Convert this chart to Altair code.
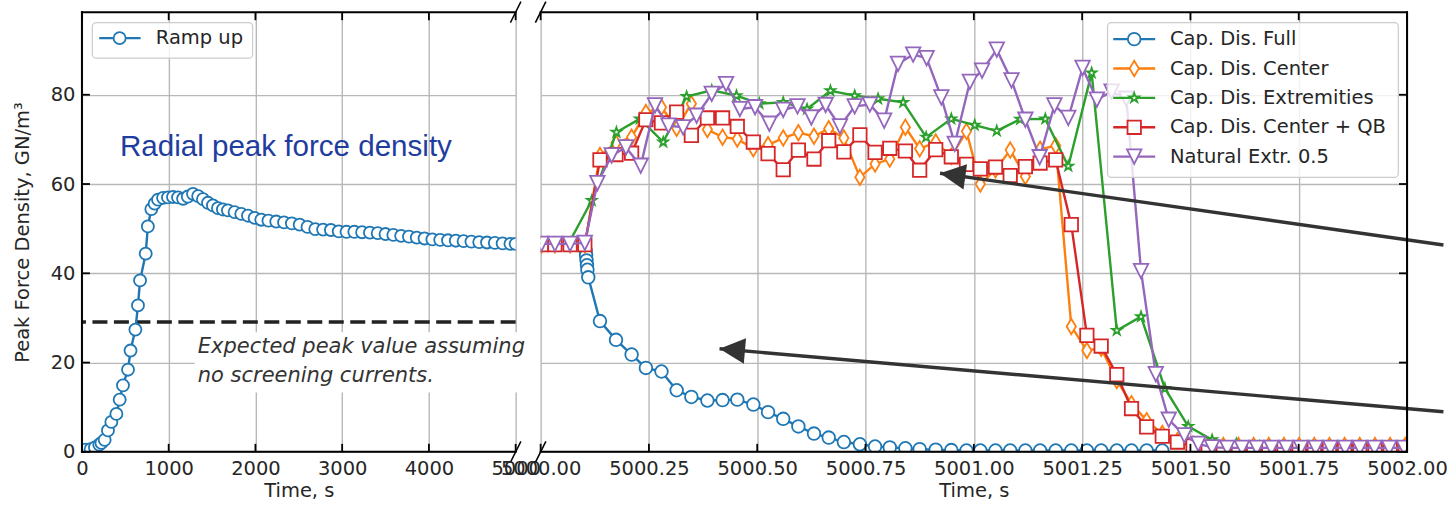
import math
import altair as alt
import pandas as pd

# ---------------- data ----------------
ramp_t = [0, 45, 100, 150, 200, 225, 262, 300, 339, 397, 435, 473, 531, 560, 616, 646, 670, 735, 760, 800,
          838, 877, 935, 992, 1050, 1108, 1166, 1220, 1280, 1340, 1395, 1453, 1510, 1568, 1625, 1683, 1760, 1837,
          1914, 1991, 2068, 2150, 2240, 2330, 2420, 2510, 2600, 2690, 2780, 2870, 2960, 3050, 3140, 3230, 3320,
          3410, 3500, 3590, 3680, 3770, 3860, 3950, 4040, 4130, 4220, 4310, 4400, 4490, 4580, 4670, 4760, 4850,
          4940, 5000]
ramp_v = [0.3, 0.5, 0.6, 1.0, 1.6, 2.0, 2.7, 4.8, 6.7, 8.5, 11.7, 14.9, 18.4, 22.7, 27.4, 32.8, 38.4, 44.4, 50.5, 54.4,
          55.6, 56.5, 56.9, 57.0, 57.1, 57.0, 56.7, 57.2, 57.8, 57.3, 56.6, 55.8, 55.2, 54.6, 54.3, 54.1, 53.7, 53.3,
          52.9, 52.4, 52.0, 51.8, 51.6, 51.4, 51.2, 50.9, 50.4, 49.9, 49.8, 49.7, 49.4, 49.3, 49.3, 49.2, 49.1,
          49.0, 48.8, 48.6, 48.4, 48.2, 48.0, 47.8, 47.6, 47.5, 47.4, 47.3, 47.2, 47.1, 47.0, 46.9, 46.8, 46.7,
          46.6, 46.6]

full_t = [5000.002, 5000.033, 5000.068, 5000.102, 5000.104, 5000.105, 5000.106, 5000.107, 5000.108, 5000.110,
          5000.137, 5000.174, 5000.210, 5000.243, 5000.279, 5000.314, 5000.348, 5000.385, 5000.420, 5000.454,
          5000.491, 5000.525, 5000.560, 5000.595, 5000.631, 5000.665, 5000.700, 5000.737, 5000.772, 5000.806,
          5000.842, 5000.875, 5000.912, 5000.948, 5000.983, 5001.015, 5001.050, 5001.084, 5001.119, 5001.153,
          5001.189, 5001.225, 5001.261, 5001.294, 5001.330, 5001.364, 5001.399, 5001.435]
full_v = [46.5, 46.5, 46.5, 46.4, 45.1, 44.0, 42.9, 41.8, 40.8, 39.1,
          29.3, 25.1, 21.8, 18.8, 18.0, 13.8, 12.3, 11.5, 11.6, 11.7,
          10.6, 8.9, 7.4, 5.7, 4.1, 3.2, 2.2, 1.7, 1.2, 1.0,
          0.8, 0.6, 0.5, 0.4, 0.3, 0.3, 0.3, 0.3, 0.3, 0.3,
          0.3, 0.3, 0.3, 0.3, 0.3, 0.3, 0.3, 0.3]

center_t = [5000.002, 5000.033, 5000.068, 5000.102, 5000.137, 5000.174, 5000.210, 5000.243, 5000.279, 5000.314,
            5000.348, 5000.385, 5000.420, 5000.454, 5000.491, 5000.525, 5000.560, 5000.595, 5000.631, 5000.665,
            5000.700, 5000.737, 5000.772, 5000.806, 5000.842, 5000.875, 5000.912, 5000.948, 5000.983, 5001.015,
            5001.050, 5001.084, 5001.119, 5001.153, 5001.189, 5001.225, 5001.261, 5001.294, 5001.330, 5001.364,
            5001.399, 5001.435, 5001.470, 5001.506, 5001.541, 5001.576, 5001.611, 5001.646, 5001.681, 5001.716,
            5001.751, 5001.786, 5001.821, 5001.856, 5001.891, 5001.926, 5001.961, 5001.996]
center_v = [46.4, 46.4, 46.4, 46.4, 66.4, 69.2, 70.5, 76.0, 77.2, 72.5,
            78.0, 72.2, 70.5, 70.1, 67.9, 68.8, 70.3, 71.5, 70.7, 72.4,
            70.3, 61.5, 64.5, 65.6, 72.7, 67.9, 69.4, 66.2, 71.8, 60.0,
            63.2, 67.6, 61.7, 67.8, 68.6, 28.1, 22.7, 23.2, 16.0, 10.8,
            7.0, 4.1, 2.5, 1.7, 1.4, 1.4, 1.4, 1.4, 1.4, 1.4,
            1.4, 1.4, 1.4, 1.4, 1.4, 1.4, 1.4, 1.4]

extr_t = [5000.008, 5000.063, 5000.118, 5000.175, 5000.229, 5000.283, 5000.337, 5000.395, 5000.452, 5000.505,
          5000.560, 5000.615, 5000.669, 5000.725, 5000.779, 5000.837, 5000.890, 5000.948, 5001.002, 5001.053,
          5001.107, 5001.165, 5001.218, 5001.272, 5001.330, 5001.386, 5001.441, 5001.495, 5001.550, 5001.606,
          5001.660, 5001.715, 5001.770, 5001.825, 5001.880, 5001.935, 5001.990]
extr_v = [46.4, 46.4, 56.3, 71.6, 74.6, 69.4, 79.6, 81.0, 79.8, 78.0,
          78.3, 76.8, 80.9, 79.8, 79.1, 78.3, 70.5, 74.6, 73.2, 71.9,
          74.5, 74.6, 64.0, 84.9, 27.2, 30.3, 14.2, 5.7, 2.7, 1.8,
          1.2, 1.0, 1.0, 1.0, 1.0, 1.0, 1.0]

cqb_t = [5000.002, 5000.033, 5000.068, 5000.102, 5000.137, 5000.174, 5000.210, 5000.243, 5000.279, 5000.314,
         5000.348, 5000.385, 5000.420, 5000.454, 5000.491, 5000.525, 5000.560, 5000.595, 5000.631, 5000.665,
         5000.700, 5000.737, 5000.772, 5000.806, 5000.842, 5000.875, 5000.912, 5000.948, 5000.983, 5001.015,
         5001.050, 5001.084, 5001.119, 5001.153, 5001.189, 5001.225, 5001.261, 5001.294, 5001.330, 5001.364,
         5001.399, 5001.435, 5001.470, 5001.506, 5001.541, 5001.576, 5001.611, 5001.646, 5001.681, 5001.716,
         5001.751, 5001.786, 5001.821, 5001.856, 5001.891, 5001.926, 5001.961, 5001.996]
cqb_v = [46.4, 46.4, 46.4, 46.4, 65.4, 66.6, 66.9, 74.4, 73.7, 76.1,
         70.9, 74.8, 74.8, 72.9, 69.4, 66.8, 63.2, 67.6, 65.6, 69.7,
         67.2, 71.0, 67.1, 68.0, 67.4, 63.1, 67.7, 66.1, 64.4, 63.4,
         63.8, 61.9, 63.9, 64.7, 65.4, 50.9, 26.1, 23.7, 17.3, 9.7,
         5.6, 3.5, 2.2, 1.3, 1.0, 0.9, 0.9, 0.9, 0.9, 0.9,
         0.9, 0.9, 0.9, 0.9, 0.9, 0.9, 0.9, 0.9]

nat_t = [5000.002, 5000.033, 5000.068, 5000.102, 5000.131, 5000.164, 5000.197, 5000.231, 5000.264, 5000.295,
         5000.329, 5000.360, 5000.395, 5000.428, 5000.460, 5000.495, 5000.528, 5000.560, 5000.593, 5000.625,
         5000.658, 5000.691, 5000.725, 5000.760, 5000.793, 5000.825, 5000.860, 5000.891, 5000.925, 5000.956,
         5000.991, 5001.019, 5001.053, 5001.087, 5001.119, 5001.152, 5001.186, 5001.218, 5001.251, 5001.284,
         5001.318, 5001.352, 5001.386, 5001.420, 5001.450, 5001.486, 5001.518, 5001.550, 5001.585, 5001.619,
         5001.653, 5001.687, 5001.721, 5001.755, 5001.789, 5001.823, 5001.857, 5001.891, 5001.925, 5001.959,
         5001.993]
nat_v = [46.6, 46.6, 46.6, 46.8, 60.2, 66.4, 68.2, 64.1, 77.6, 73.1,
         72.7, 75.3, 80.2, 82.4, 76.8, 77.2, 73.5, 76.6, 77.4, 74.9,
         77.7, 72.9, 77.4, 77.8, 74.2, 86.9, 89.0, 88.2, 79.4, 69.0,
         82.9, 85.4, 90.1, 83.2, 74.4, 66.0, 77.6, 74.8, 86.0, 78.9,
         80.7, 79.1, 40.5, 17.4, 7.2, 3.7, 1.8, 1.0, 0.9, 0.9,
         0.9, 0.9, 0.9, 0.9, 0.9, 0.9, 0.9, 0.9, 0.9, 0.9,
         0.9]

series_names = ["Cap. Dis. Full", "Cap. Dis. Center", "Cap. Dis. Extremities",
                "Cap. Dis. Center + QB", "Natural Extr. 0.5"]
series_colors = ["#1f77b4", "#ff7f0e", "#2ca02c", "#d62728", "#9467bd"]

left_xticks = [0, 1000, 2000, 3000, 4000, 5000]
right_xticks = [5000.0, 5000.25, 5000.5, 5000.75, 5001.0, 5001.25, 5001.5, 5001.75, 5002.0]
yticks = [0, 20, 40, 60, 80]

expected_peak = [29.1]
title_text = ["Radial peak force density"]
title_pos_t, title_pos_v = [438], [68.2]
note_lines = ["Expected peak value assuming", "no screening currents."]
note_t = [1336, 1336]
note_v = [23.4, 17.0]
note_box_t, note_box_t2, note_box_v, note_box_v2 = [1300], [5170], [13.3], [26.8]

arrow_tip_t = [5000.922, 5000.413]
arrow_tip_v = [62.41, 23.1]
arrow_tail_t = [5002.084, 5002.084]
arrow_tail_v = [46.34, 8.98]

# ---------------- styling ----------------
W_L, W_R, H = 434, 867, 440
Y_MAX = 98.5
FONT = "DejaVu Sans"
FS = 19.5
TXT = "#262626"
GRID = "#b8b8b8"
LW = 2.4
MW = 1.8

STAR = ("M0,-1L0.225,-0.309L0.951,-0.309L0.363,0.118L0.588,0.809L0,0.382"
        "L-0.588,0.809L-0.363,0.118L-0.951,-0.309L-0.225,-0.309Z")
THIN_DIAMOND = "M0,-1L0.6,0L0,1L-0.6,0Z"
TRI_DOWN = "M0,1L-1,-1L1,-1Z"
series_shapes = ["circle", THIN_DIAMOND, STAR, "square", TRI_DOWN]
series_sizes = [160, 240, 100, 180, 210]
RAMP_SIZE = 145

one = pd.DataFrame({"k": [0]})

yscale = alt.Scale(domain=[0, Y_MAX], nice=False, zero=False)
lscale = alt.Scale(domain=[0, 5000], nice=False, zero=False)
rscale = alt.Scale(domain=[5000, 5002], nice=False, zero=False)

ax_common = dict(grid=True, gridColor=GRID, gridWidth=1.4, ticks=False, tickSize=0, domain=False,
                 labelFont=FONT, labelFontSize=FS, labelColor=TXT, titleFont=FONT, titleFontSize=FS,
                 titleColor=TXT, titleFontWeight="normal", labelOverlap=False, labelFlush=False)

LX = alt.X("t:Q", scale=lscale, axis=alt.Axis(values=left_xticks, format="d", title="Time, s",
                                               labelPadding=8, titlePadding=3.5, **ax_common))
LY = alt.Y("v:Q", scale=yscale, axis=alt.Axis(values=yticks, format="d",
                                               title="Peak Force Density, GN/m³",
                                               labelPadding=7, titlePadding=18, **ax_common))
RX = alt.X("t:Q", scale=rscale, axis=alt.Axis(values=right_xticks, format=".2f", title="Time, s",
                                               labelPadding=8, titlePadding=3.5, **ax_common))
RY = alt.Y("v:Q", scale=yscale, axis=alt.Axis(values=yticks, labels=False, title="", orient="right",
                                               **ax_common))


def series_layers(t, v, color, shape, size, X, Y):
    df = pd.DataFrame({"t": t, "v": v})
    base = alt.Chart(df)
    line = base.mark_line(color=color, strokeWidth=LW, clip=True).encode(x=X, y=Y)
    pts = base.mark_point(shape=shape, size=size, filled=True, fill="white", stroke=color,
                          strokeWidth=MW, opacity=1, clip=True).encode(x=X, y=Y)
    return [line, pts]


def legend_layers(box, line_x, mark_x, text_x, row0, dy, items):
    x0, x1, y0, y1 = box
    layers = [alt.Chart(one).mark_rect(fill="white", fillOpacity=0.8, stroke="#cccccc", strokeWidth=1.2,
                                       cornerRadius=4)
              .encode(x=alt.value(x0), x2=alt.value(x1), y=alt.value(y0), y2=alt.value(y1))]
    for i, (label, color, shape, size) in enumerate(items):
        y = row0 + i * dy
        layers.append(alt.Chart(one).mark_rule(color=color, strokeWidth=LW)
                      .encode(x=alt.value(line_x[0]), x2=alt.value(line_x[1]), y=alt.value(y)))
        layers.append(alt.Chart(one).mark_point(shape=shape, size=size, filled=True, fill="white", stroke=color,
                                                strokeWidth=MW, opacity=1)
                      .encode(x=alt.value(mark_x), y=alt.value(y)))
        layers.append(alt.Chart(one).mark_text(text=label, align="left", baseline="middle", font=FONT,
                                               fontSize=FS, color=TXT)
                      .encode(x=alt.value(text_x), y=alt.value(y)))
    return layers


def frame_layers(X, Y, xticks, width, sides, ytick_side):
    layers = []
    spine = dict(color="black", strokeWidth=2, strokeCap="square")
    if "left" in sides:
        layers.append(alt.Chart(one).mark_rule(**spine).encode(x=alt.value(0), y=alt.value(0), y2=alt.value(H)))
    if "right" in sides:
        layers.append(alt.Chart(one).mark_rule(**spine).encode(x=alt.value(width), y=alt.value(0), y2=alt.value(H)))
    layers.append(alt.Chart(one).mark_rule(**spine).encode(x=alt.value(0), x2=alt.value(width), y=alt.value(0)))
    layers.append(alt.Chart(one).mark_rule(**spine).encode(x=alt.value(0), x2=alt.value(width), y=alt.value(H)))
    xt = pd.DataFrame({"t": xticks})
    layers.append(alt.Chart(xt).mark_rule(color="black", strokeWidth=1.8)
                  .encode(x=X, y=alt.value(H), y2=alt.value(H - 8)))
    layers.append(alt.Chart(xt).mark_rule(color="black", strokeWidth=1.8)
                  .encode(x=X, y=alt.value(0), y2=alt.value(8)))
    yt = pd.DataFrame({"v": yticks})
    if ytick_side == "left":
        layers.append(alt.Chart(yt).mark_rule(color="black", strokeWidth=1.8)
                      .encode(y=Y, x=alt.value(0), x2=alt.value(8)))
    else:
        layers.append(alt.Chart(yt).mark_rule(color="black", strokeWidth=1.8)
                      .encode(y=Y, x=alt.value(width), x2=alt.value(width - 8)))
    brk = pd.DataFrame({"t": [5000, 5000], "v": [0, Y_MAX]})
    layers.append(alt.Chart(brk).mark_point(shape="M-0.5,1L0.5,-1", size=441, filled=False, stroke="black",
                                            strokeWidth=1.5, strokeJoin="round", strokeCap="butt",
                                            opacity=1, clip=False)
                  .encode(x=X, y=Y))
    return layers


# ---------------- left panel ----------------
left_layers = []
left_layers.append(alt.Chart(pd.DataFrame({"t": note_box_t, "t2": note_box_t2, "v": note_box_v, "v2": note_box_v2}))
                   .mark_rect(fill="white", clip=False)
                   .encode(x=LX, x2="t2:Q", y=LY, y2="v2:Q"))
left_layers.append(alt.Chart(pd.DataFrame({"v": expected_peak}))
                   .mark_rule(color="#222222", strokeWidth=3.5, strokeDash=[15, 6.5])
                   .encode(y=LY))
left_layers += series_layers(ramp_t, ramp_v, series_colors[0], "circle", RAMP_SIZE, LX, LY)
left_layers.append(alt.Chart(pd.DataFrame({"t": title_pos_t, "v": title_pos_v, "s": title_text}))
                   .mark_text(align="left", baseline="middle", font="Liberation Sans", fontSize=29.6,
                              color="#1f3d9f")
                   .encode(x=LX, y=LY, text="s:N"))
left_layers.append(alt.Chart(pd.DataFrame({"t": note_t, "v": note_v, "s": note_lines}))
                   .mark_text(align="left", baseline="middle", font=FONT, fontSize=21, fontStyle="italic",
                              color="#333333")
                   .encode(x=LX, y=LY, text="s:N"))
left_layers += legend_layers((10.4, 170.8, 10.4, 46.0), (17.3, 58.7), 37.7, 73.9, 26.0, 0,
                             [("Ramp up", series_colors[0], "circle", RAMP_SIZE)])
left_layers += frame_layers(LX, LY, left_xticks, W_L, ["left"], "left")

# ---------------- right panel ----------------
right_layers = []
all_t = [full_t, center_t, extr_t, cqb_t, nat_t]
all_v = [full_v, center_v, extr_v, cqb_v, nat_v]
for i in range(5):
    right_layers += series_layers(all_t[i], all_v[i], series_colors[i], series_shapes[i], series_sizes[i], RX, RY)

px_t = W_R / 2.0
px_v = H / Y_MAX
for i in range(2):
    adf = pd.DataFrame({"t": [arrow_tip_t[i], arrow_tail_t[i]], "v": [arrow_tip_v[i], arrow_tail_v[i]]})
    right_layers.append(alt.Chart(adf).mark_line(color="#333333", strokeWidth=3.4, strokeJoin="round",
                                                 strokeCap="butt", clip=False)
                        .encode(x=RX, y=RY))
    dx = (arrow_tail_t[i] - arrow_tip_t[i]) * px_t
    dy = (arrow_tip_v[i] - arrow_tail_v[i]) * px_v
    ang = math.degrees(math.atan2(dy, dx))
    hdf = pd.DataFrame({"t": [arrow_tip_t[i]], "v": [arrow_tip_v[i]]})
    right_layers.append(alt.Chart(hdf).mark_point(shape="M0,0L2,-1L2,1Z", size=650, filled=True,
                                                  fill="#333333", strokeWidth=0, opacity=1, angle=ang,
                                                  clip=False)
                        .encode(x=RX, y=RY))

right_layers += legend_layers((567.3, 858.3, 10.4, 165.4), (573, 615), 594, 629.7, 27.0, 29.4,
                              list(zip(series_names, series_colors, series_shapes, series_sizes)))
right_layers += frame_layers(RX, RY, right_xticks, W_R, ["right"], "right")

left = alt.layer(*left_layers).properties(width=W_L, height=H)
right = alt.layer(*right_layers).properties(width=W_R, height=H)

chart = (alt.hconcat(left, right, spacing=25, bounds="flush")
         .properties(padding={"left": 12, "top": 0, "right": 0, "bottom": 1.5})
         .configure(font=FONT)
         .configure_view(strokeWidth=0))

chart.save("out.html", embed_options={"renderer": "svg", "actions": False})
